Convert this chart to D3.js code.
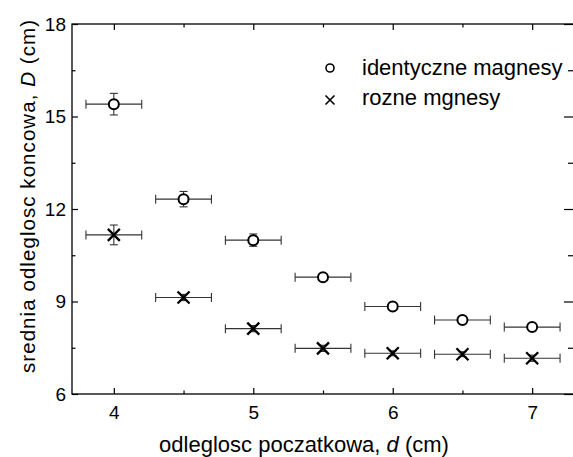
<!DOCTYPE html>
<html><head><meta charset="utf-8">
<script src="https://cdn.jsdelivr.net/npm/d3@7"></script>
<style>body{margin:0;background:#fff;} svg{display:block;font-family:"Liberation Sans",Arial,sans-serif;}</style>
</head><body>
<svg id="c" width="573" height="457"></svg>
<script>
const dVals = [4, 4.5, 5, 5.5, 6, 6.5, 7];
const dErr = [0.2, 0.2, 0.2, 0.2, 0.2, 0.2, 0.2];
const identVals = [15.40, 12.32, 10.99, 9.79, 8.84, 8.40, 8.17];
const identErr = [0.35, 0.25, 0.2, 0.08, 0.08, 0.08, 0.08];
const rozneVals = [11.16, 9.13, 8.12, 7.48, 7.32, 7.29, 7.16];
const rozneErr = [0.32, 0.1, 0.1, 0.1, 0.08, 0.08, 0.1];
const xTicks = [4, 5, 6, 7];
const xMinor = [4.5, 5.5, 6.5];
const yTicks = [6, 9, 12, 15, 18];
const yMinor = [7.5, 10.5, 13.5, 16.5];
const seriesNames = ["identyczne magnesy", "rozne mgnesy"];

const svg = d3.select("#c");
const L = 72, R = 574, T = 24, B = 394;
const x = d3.scaleLinear().domain([3.7, 7.3]).range([L, R]);
const y = d3.scaleLinear().domain([6, 18]).range([B, T]);

const g = svg.append("g");
// frame
g.append("rect").attr("x", L).attr("y", T).attr("width", R - L).attr("height", B - T)
  .attr("fill", "none").attr("stroke", "#000").attr("stroke-width", 1.3);

function ticks(axisFn, scale, vals, len, pos) {
  const a = g.append("g").attr("transform", pos).call(axisFn(scale).tickValues(vals).tickSize(len).tickFormat(""));
  a.select(".domain").remove();
  a.selectAll("line").attr("stroke", "#000").attr("stroke-width", 1.2);
}
// inward ticks
ticks(d3.axisTop, x, xTicks, 6, `translate(0,${B})`);
ticks(d3.axisTop, x, xMinor, 3.5, `translate(0,${B})`);
ticks(d3.axisBottom, x, xTicks, 6, `translate(0,${T})`);
ticks(d3.axisBottom, x, xMinor, 3.5, `translate(0,${T})`);
ticks(d3.axisRight, y, yTicks, 6, `translate(${L},0)`);
ticks(d3.axisRight, y, yMinor, 3.5, `translate(${L},0)`);
ticks(d3.axisLeft, y, yTicks, 10, `translate(${R},0)`);
ticks(d3.axisLeft, y, yMinor, 6, `translate(${R},0)`);

// tick labels
const xl = g.append("g").attr("transform", `translate(0,${B})`)
  .call(d3.axisBottom(x).tickValues(xTicks).tickSize(0).tickPadding(12).tickFormat(d3.format("d")));
xl.select(".domain").remove();
xl.selectAll("text").attr("font-size", 19).attr("fill", "#000").attr("font-family", "Liberation Sans, Arial, sans-serif");
const yl = g.append("g").attr("transform", `translate(${L},0)`)
  .call(d3.axisLeft(y).tickValues(yTicks).tickSize(0).tickPadding(6).tickFormat(d3.format("d")));
yl.select(".domain").remove();
yl.selectAll("text").attr("font-size", 19).attr("fill", "#000").attr("font-family", "Liberation Sans, Arial, sans-serif");

// axis titles
const xt = svg.append("text").attr("x", 304).attr("y", 452).attr("text-anchor", "middle")
  .attr("font-size", 22);
xt.append("tspan").text("odleglosc poczatkowa, ");
xt.append("tspan").attr("font-style", "italic").text("d");
xt.append("tspan").text(" (cm)");
const yt = svg.append("text").attr("transform", "translate(35,196.5) rotate(-90)").attr("text-anchor", "middle")
  .attr("font-size", 20.5).attr("textLength", 353).attr("lengthAdjust", "spacing");
yt.append("tspan").text("srednia odleglosc koncowa, ");
yt.append("tspan").attr("font-style", "italic").text("D");
yt.append("tspan").text(" (cm)");

// error bars
function errBars(vals, errs) {
  const eg = g.append("g").attr("stroke", "#333").attr("stroke-width", 1.1).attr("fill", "none");
  dVals.forEach((d, i) => {
    const cx = x(d), cy = y(vals[i]);
    const x0 = x(d - dErr[i]), x1 = x(d + dErr[i]);
    eg.append("line").attr("x1", x0).attr("x2", x1).attr("y1", cy).attr("y2", cy);
    eg.append("line").attr("x1", x0).attr("x2", x0).attr("y1", cy - 4.5).attr("y2", cy + 4.5);
    eg.append("line").attr("x1", x1).attr("x2", x1).attr("y1", cy - 4.5).attr("y2", cy + 4.5);
    const y0 = y(vals[i] - errs[i]), y1 = y(vals[i] + errs[i]);
    eg.append("line").attr("x1", cx).attr("x2", cx).attr("y1", y0).attr("y2", y1);
    eg.append("line").attr("x1", cx - 4).attr("x2", cx + 4).attr("y1", y0).attr("y2", y0);
    eg.append("line").attr("x1", cx - 4).attr("x2", cx + 4).attr("y1", y1).attr("y2", y1);
  });
}
errBars(identVals, identErr);
errBars(rozneVals, rozneErr);

function circle(sel, cx, cy) {
  sel.append("circle").attr("cx", cx).attr("cy", cy).attr("r", 5)
    .attr("fill", "#fff").attr("stroke", "#000").attr("stroke-width", 2);
}
function cross(sel, cx, cy, s) {
  sel.append("path").attr("d", `M${cx - s},${cy - s}L${cx + s},${cy + s}M${cx - s},${cy + s}L${cx + s},${cy - s}`)
    .attr("stroke", "#000").attr("stroke-width", 2.3).attr("fill", "none");
}
const mg = g.append("g");
dVals.forEach((d, i) => circle(mg, x(d), y(identVals[i])));
dVals.forEach((d, i) => cross(mg, x(d), y(rozneVals[i]), 6));

// legend
const lg = svg.append("g");
lg.append("circle").attr("cx", 330).attr("cy", 68).attr("r", 4)
  .attr("fill", "#fff").attr("stroke", "#000").attr("stroke-width", 1.6);
cross(lg, 330, 100, 4.5);
lg.select("path").attr("stroke-width", 1.6);
lg.append("text").attr("x", 362).attr("y", 75).attr("font-size", 22).text(seriesNames[0]);
lg.append("text").attr("x", 362).attr("y", 105).attr("font-size", 22).text(seriesNames[1]);
</script>
</body></html>
